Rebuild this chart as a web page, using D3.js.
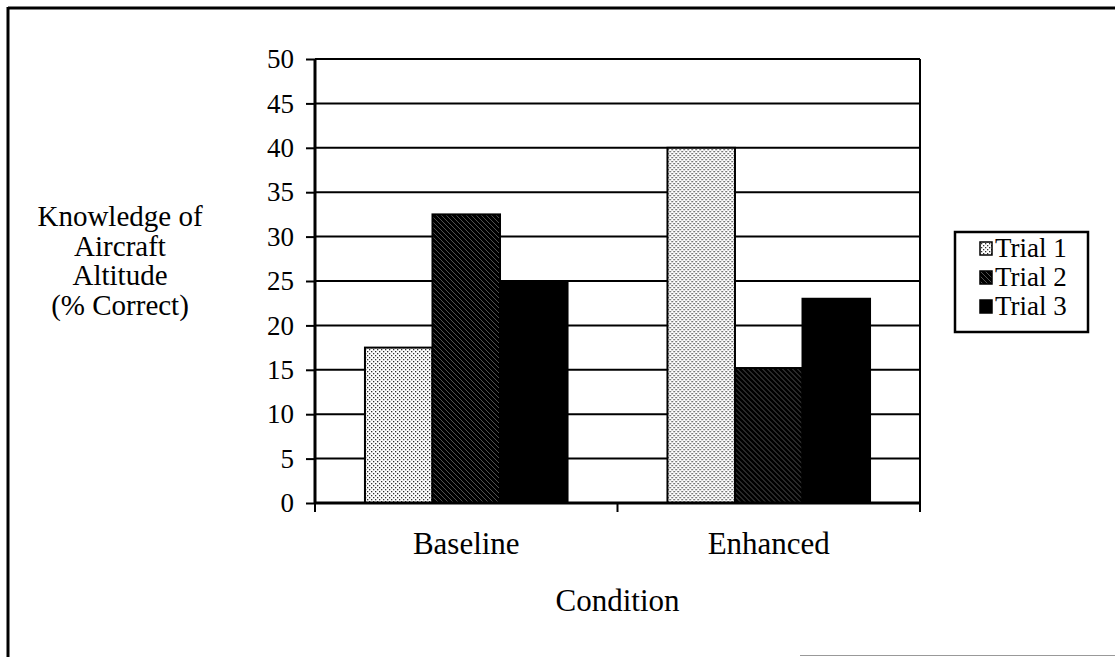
<!DOCTYPE html>
<html>
<head>
<meta charset="utf-8">
<script src="https://cdn.jsdelivr.net/npm/d3@7"></script>
</head>
<body style="margin:0">
<svg id="chart" width="1115" height="657"></svg>
<script>
// datos
var conditions = ["Baseline", "Enhanced"];
var trials = ["Trial 1", "Trial 2", "Trial 3"];
var trial1 = [17.5, 40];
var trial2 = [32.5, 15.2];
var trial3 = [25, 23];
var yTicks = [0, 5, 10, 15, 20, 25, 30, 35, 40, 45, 50];
var yLabel = ["Knowledge of", "Aircraft", "Altitude", "(% Correct)"];
var xLabel = "Condition";

var series = [trial1, trial2, trial3];
var data = conditions.map(function(c, i) {
	return { cond: c, values: trials.map(function(t, j) { return { trial: t, value: series[j][i] }; }) };
});

var svg = d3.select("#chart");

// patrones de relleno
var defs = svg.append("defs");
var p1 = defs.append("pattern").attr("id", "pat1")
	.attr("width", 4).attr("height", 4).attr("patternUnits", "userSpaceOnUse");
p1.append("rect").attr("width", 4).attr("height", 4).attr("fill", "#fff");
p1.append("rect").attr("x", 0).attr("y", 0).attr("width", 1.3).attr("height", 1.3).attr("fill", "#333");
p1.append("rect").attr("x", 2).attr("y", 2).attr("width", 1.3).attr("height", 1.3).attr("fill", "#333");

var p2 = defs.append("pattern").attr("id", "pat2")
	.attr("width", 5).attr("height", 5).attr("patternUnits", "userSpaceOnUse");
p2.append("rect").attr("width", 5).attr("height", 5).attr("fill", "#000");
p2.append("path").attr("d", "M0,0 L5,5 M-1,4 L1,6 M4,-1 L6,1")
	.attr("stroke", "#888").attr("stroke-width", 0.6);

var fills = { "Trial 1": "url(#pat1)", "Trial 2": "url(#pat2)", "Trial 3": "#000" };

var margin = { top: 59, left: 315, right: 195, bottom: 154 };
var width = 1115 - margin.left - margin.right,
	height = 657 - margin.top - margin.bottom;

var x0 = d3.scaleBand().domain(conditions).range([0, width]).padding(0);
var x1 = d3.scaleBand().domain(trials).range([0, x0.bandwidth()]).paddingInner(0).paddingOuter(0.74);
var y = d3.scaleLinear().domain([0, 50]).range([height, 0]);

// marco exterior
svg.append("line").attr("x1", 8).attr("x2", 1115).attr("y1", 8).attr("y2", 8)
	.attr("stroke", "#000").attr("stroke-width", 3);
svg.append("line").attr("x1", 8).attr("x2", 8).attr("y1", 7).attr("y2", 657)
	.attr("stroke", "#000").attr("stroke-width", 3);
svg.append("line").attr("x1", 800).attr("x2", 1115).attr("y1", 655.5).attr("y2", 655.5)
	.attr("stroke", "#999").attr("stroke-width", 1);

var g = svg.append("g").attr("transform", "translate(" + margin.left + "," + margin.top + ")");

// grilla
g.selectAll(".grid").data(yTicks.slice(1)).enter().append("line")
	.attr("x1", 0).attr("x2", width)
	.attr("y1", function(d) { return y(d); }).attr("y2", function(d) { return y(d); })
	.attr("stroke", "#000").attr("stroke-width", 2);
g.append("line").attr("x1", width).attr("x2", width).attr("y1", 0).attr("y2", height)
	.attr("stroke", "#000").attr("stroke-width", 2);

// barras
g.selectAll(".grupo").data(data).enter().append("g")
	.attr("transform", function(d) { return "translate(" + x0(d.cond) + ",0)"; })
	.selectAll("rect").data(function(d) { return d.values; }).enter().append("rect")
	.attr("x", function(d) { return x1(d.trial); })
	.attr("y", function(d) { return y(d.value); })
	.attr("width", x1.bandwidth())
	.attr("height", function(d) { return height - y(d.value); })
	.attr("fill", function(d) { return fills[d.trial]; })
	.attr("stroke", "#000").attr("stroke-width", 2);

// eje y
var yAxis = g.append("g").call(d3.axisLeft(y).tickValues(yTicks).tickSize(9).tickPadding(12));
yAxis.select(".domain").attr("stroke-width", 3).attr("d", "M0," + y(50) + "V" + y(0));
yAxis.selectAll(".tick line").attr("stroke-width", 2);
yAxis.selectAll("text").attr("font-size", 27);

// eje x
var xTicks = [0, x0.bandwidth(), width];
g.append("line").attr("x1", 0).attr("x2", width).attr("y1", height).attr("y2", height)
	.attr("stroke", "#000").attr("stroke-width", 3);
g.selectAll(".xtick").data(xTicks).enter().append("line")
	.attr("x1", function(d) { return d; }).attr("x2", function(d) { return d; })
	.attr("y1", height).attr("y2", height + 9)
	.attr("stroke", "#000").attr("stroke-width", 2);
g.selectAll(".cat").data(conditions).enter().append("text")
	.attr("x", function(d) { return x0(d) + x0.bandwidth() / 2; })
	.attr("y", height + 51)
	.attr("text-anchor", "middle").attr("font-size", 31)
	.text(function(d) { return d; });

g.append("text").attr("x", width / 2).attr("y", height + 108)
	.attr("text-anchor", "middle").attr("font-size", 31).text(xLabel);

// titulo eje y
svg.append("text").attr("x", 120).attr("y", 226)
	.attr("text-anchor", "middle").attr("font-size", 29)
	.selectAll("tspan").data(yLabel).enter().append("tspan")
	.attr("x", 120).attr("dy", function(d, i) { return i ? 29.5 : 0; })
	.text(function(d) { return d; });

// leyenda
var lg = svg.append("g").attr("transform", "translate(955,232)");
lg.append("rect").attr("width", 133).attr("height", 100)
	.attr("fill", "#fff").attr("stroke", "#000").attr("stroke-width", 2.5);
var items = lg.selectAll(".item").data(trials).enter().append("g")
	.attr("transform", function(d, i) { return "translate(0," + (25 + i * 29) + ")"; });
items.append("rect").attr("x", 25).attr("y", -15).attr("width", 12).attr("height", 13)
	.attr("fill", function(d) { return fills[d]; }).attr("stroke", "#000").attr("stroke-width", 1.5);
items.append("text").attr("x", 40).attr("y", 0).attr("font-size", 27)
	.text(function(d) { return d; });

// fuente serif en todos los textos
svg.selectAll("text").attr("font-family", "Liberation Serif").style("font-family", "Liberation Serif");
</script>
</body>
</html>
